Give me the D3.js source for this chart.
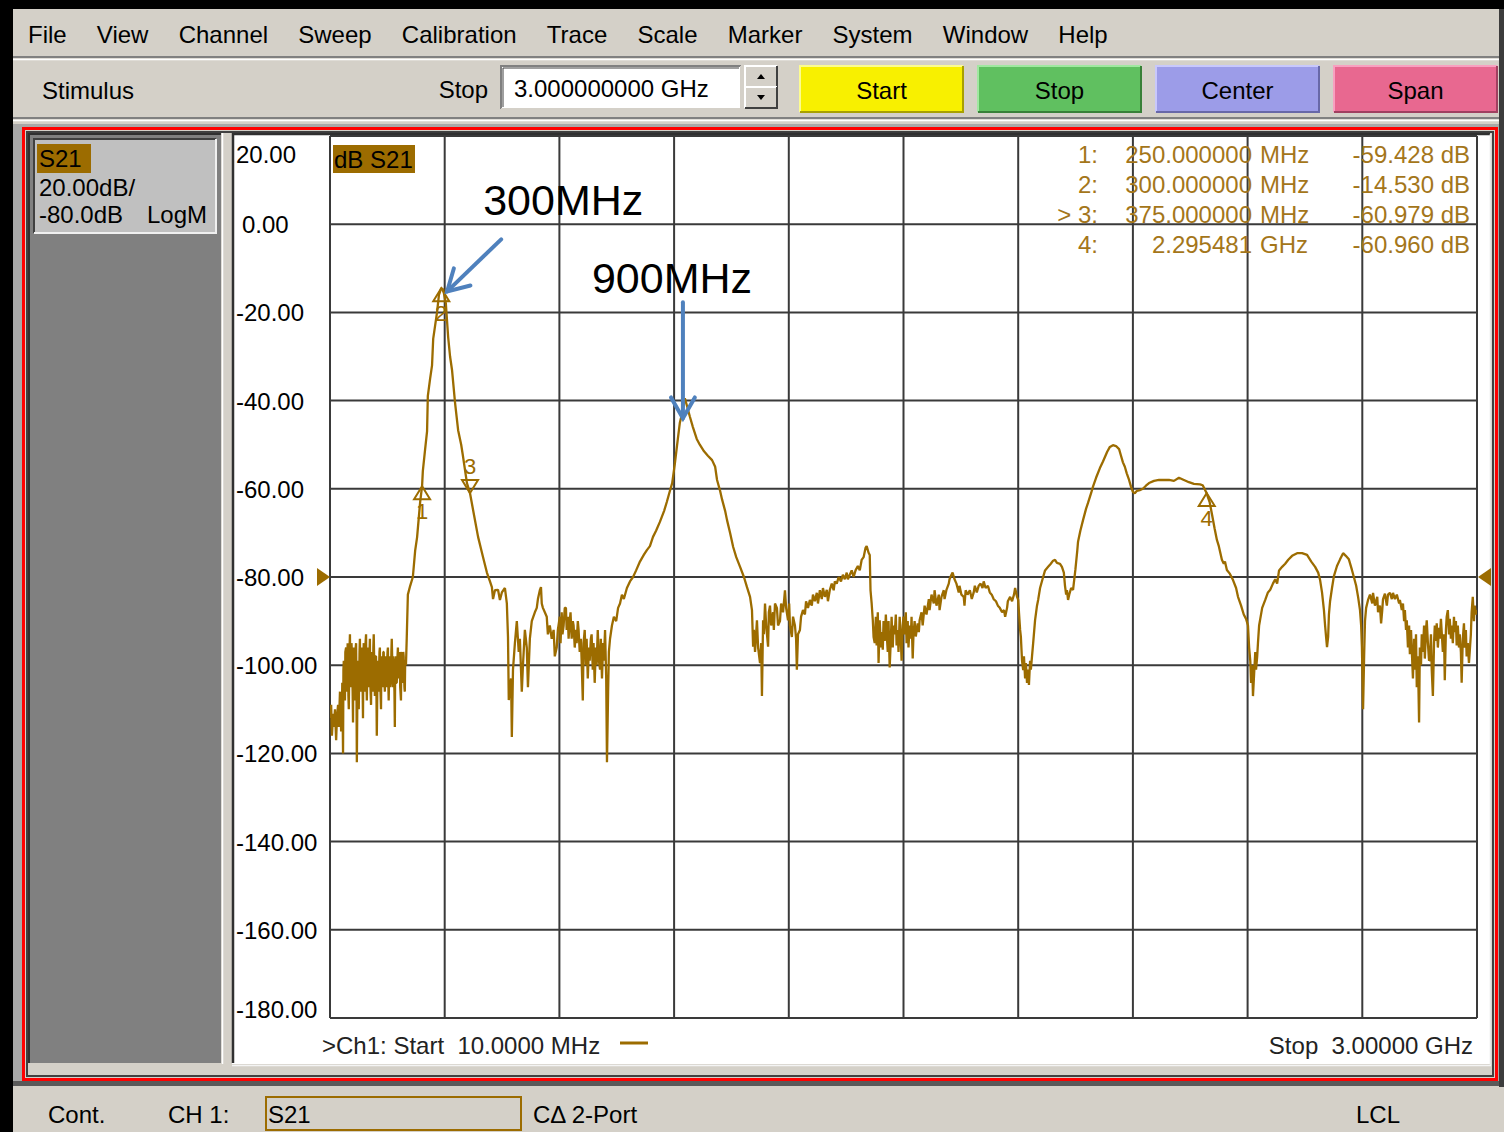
<!DOCTYPE html>
<html>
<head>
<meta charset="utf-8">
<script src="https://cdn.jsdelivr.net/npm/d3@7"></script>
<style>
  html, body { margin: 0; padding: 0; background: #d4d0c8; }
  svg { display: block; }
  text { font-family: "Liberation Sans", Arial, sans-serif; white-space: pre; }
</style>
</head>
<body>
<svg id="vna" width="1504" height="1132"></svg>
<script>
// ---------- data ----------
const menuItems = ["File", "View", "Channel", "Sweep", "Calibration", "Trace", "Scale", "Marker", "System", "Window", "Help"];
const stimulusButtons = ["Start", "Stop", "Center", "Span"];
const stimulusStopText = "3.000000000 GHz";

const freqRangeMHz = [10, 3000];
const dbRange = [20, -180];
const freqGridMHz = [10, 309, 608, 907, 1206, 1505, 1804, 2103, 2402, 2701, 3000];
const dbTicks = [20, 0, -20, -40, -60, -80, -100, -120, -140, -160, -180];
const dbTickLabels = ["20.00", "0.00", "-20.00", "-40.00", "-60.00", "-80.00", "-100.00", "-120.00", "-140.00", "-160.00", "-180.00"];
const referenceDb = -80;

const markerIds = ["1", "2", "3", "4"];
const markerFreqMHz = [250, 300, 375, 2295.481];
const markerDb = [-59.428, -14.530, -60.979, -60.960];
const markerFreqText = ["250.000000", "300.000000", "375.000000", "2.295481"];
const markerUnit = ["MHz", "MHz", "MHz", "GHz"];
const activeMarker = "3";

const annotationLabels = ["300MHz", "900MHz"];
const annotationFreqMHz = [305, 930];
const annotationDb = [-15, -44];

// S21 magnitude, [frequency MHz, dB]
const s21Trace = [
  [10,-112],[13,-109],[15,-116],[18,-111],[20,-114],[23,-110],[26,-117],[28,-112],[31,-109],[33,-114],
  [36,-106],[39,-115],[41,-111],[42,-104],[44,-120],[45,-101],[46,-99],[48,-107],[49,-108],[50,-97],
  [52,-96],[53,-104],[54,-106],[56,-95],[57,-98],[58,-107],[59,-110],[61,-96],[62,-93],[63,-103],
  [65,-105],[66,-95],[67,-97],[69,-106],[70,-113],[71,-98],[72,-96],[74,-104],[75,-108],[76,-97],
  [78,-95],[79,-105],[80,-122],[82,-100],[83,-99],[84,-106],[85,-110],[87,-97],[88,-94],[89,-104],
  [91,-106],[92,-96],[93,-97],[95,-105],[96,-112],[97,-98],[98,-95],[100,-106],[101,-104],[102,-96],
  [104,-93],[105,-103],[106,-108],[108,-98],[109,-96],[110,-105],[111,-103],[113,-97],[114,-94],[115,-104],
  [117,-109],[118,-99],[119,-97],[121,-106],[122,-105],[123,-96],[124,-93],[126,-103],[127,-107],[128,-98],
  [130,-98],[131,-105],[132,-116],[134,-100],[135,-99],[136,-106],[137,-104],[139,-97],[140,-96],[141,-104],
  [143,-110],[144,-99],[145,-98],[147,-105],[148,-102],[149,-97],[150,-97],[152,-104],[153,-106],[154,-98],
  [156,-99],[157,-105],[158,-101],[160,-97],[161,-96],[162,-104],[163,-108],[165,-98],[166,-99],[167,-105],
  [169,-103],[170,-97],[171,-94],[173,-102],[174,-105],[175,-98],[176,-100],[178,-106],[179,-114],[180,-100],
  [182,-98],[183,-104],[184,-104],[186,-98],[187,-96],[188,-103],[189,-102],[191,-97],[192,-99],[193,-105],
  [195,-108],[196,-98],[197,-97],[199,-104],[200,-103],[201,-97],[202,-98],[204,-105],[205,-106],[206,-99],
  [208,-100],[209,-97],[210,-94],
  [213,-84],[219,-82],[226,-80],[232,-74],[237,-71],[245,-63],[250,-59.4],[252,-56],[258,-51],[263,-47],
  [265,-39],[271,-35],[276,-32],[279,-26],[284,-23],[289,-20],[294,-16],[300,-14.5],[305,-14.8],[310,-17],
  [312,-18],[318,-25.6],[323,-30],[328,-33],[336,-40.5],[344,-46.7],[352,-50],[357,-52.8],[367,-58.7],[375,-61],
  [383,-64.8],[396,-70.9],[409,-75.5],[419,-79],[427,-81],[432,-82.3],[435,-85],[440,-83],[448,-82.9],[453,-85.2],
  [458,-83.5],[466,-82.5],[471,-86],[474,-93.6],[476,-107.9],[482,-103],[484,-116.3],[487,-101],[492,-95],[497,-90],
  [502,-97],[505,-94],[510,-106],[513,-100],[518,-92],[523,-96],[526,-105],[531,-94],[536,-90],[544,-88],
  [549,-87],[552,-85],[557,-83],[560,-82.3],[562,-86],[565,-87],[570,-88],[575,-89],[578,-93],[583,-91],
  [588,-94],[593,-92],[596,-98],[601,-96],[604,-92],
  [609,-89],[611,-95],[614,-88],[616,-93],[619,-91],[622,-87],[625,-87],[627,-92],[630,-89],[632,-94],
  [635,-90],[637,-88],[640,-94],[643,-90],[645,-91],[648,-96],[651,-92],[653,-95],[656,-90],[658,-92],
  [661,-97],[664,-94],[666,-99],[669,-108],[671,-95],[674,-92],[677,-100],[679,-94],[682,-103],[685,-96],
  [687,-99],[690,-94],[692,-93],[695,-101],[697,-95],[700,-104],[703,-96],[705,-100],[708,-92],[711,-99],
  [714,-101],[716,-94],[719,-103],[722,-95],[724,-99],[727,-92],[730,-103],[732,-122],[735,-106],[737,-97],
  [740,-94],[745,-91],[750,-89],[756,-90],[761,-87],[766,-86],[771,-84],[776,-85],[784,-82.5],[792,-81],
  [800,-80],[808,-78.5],[818,-76.5],[828,-75],[836,-73.9],[844,-73],[852,-70.9],[860,-69.5],[870,-67.5],[881,-65],
  [888,-63],[896,-60.5],[902,-58.7],[909,-54.3],[917,-48.5],[922,-45],[928,-42.8],[933,-40],[935,-39.5],[940,-41],
  [948,-43.6],[956,-46],[966,-48.7],[974,-50],[985,-51.5],[995,-52.5],[1006,-53.5],[1014,-55],[1019,-58],[1027,-60.5],
  [1032,-62.4],[1040,-65],[1045,-67.1],[1053,-70],[1061,-73.2],[1069,-75.5],[1079,-77.7],[1089,-80],[1097,-82.3],[1105,-84.5],
  [1110,-87.5],[1113,-95.8],[1115,-92],[1118,-97],[1123,-89.8],[1126,-96],[1131,-99.5],[1134,-95],[1136,-107],[1139,-89.8],
  [1141,-93],[1144,-86],[1147,-91],[1152,-95.8],[1154,-88],[1157,-86.5],[1160,-91],[1165,-88],[1167,-92],[1170,-86],
  [1175,-87],[1178,-91],[1183,-90],[1186,-86],[1191,-88],[1196,-83],[1199,-87],[1204,-89.8],[1207,-86],[1209,-91],
  [1214,-93.6],[1217,-89],[1222,-91],[1225,-94],[1227,-101],[1230,-93],[1235,-92],[1238,-89],[1243,-87.5],[1248,-88.5],
  [1251,-85.5],[1256,-87],[1261,-85.2],[1266,-86.5],[1269,-84],[1274,-85.5],[1279,-83.6],[1282,-86],[1287,-83],[1292,-85],
  [1295,-82.5],[1300,-84.5],[1305,-82.9],[1308,-85.5],[1313,-82.9],[1318,-81.5],[1323,-83],[1326,-81],[1331,-81.5],[1336,-80],
  [1342,-81],[1347,-79.5],[1352,-80.5],[1357,-79],[1360,-80.5],[1365,-79.5],[1370,-78.5],[1375,-80],[1380,-78.5],[1386,-77.5],
  [1391,-78.5],[1396,-76.1],[1401,-75.5],[1406,-73.4],[1409,-73],[1414,-74.5],[1417,-75],[1419,-83],[1422,-86],[1425,-89.8],
  [1427,-93.6],[1430,-95],[1433,-89],[1435,-95.5],[1438,-88],[1440,-99.5],[1443,-89.8],[1446,-96],[1448,-92.5],[1451,-96.5],
  [1453,-90],[1456,-94.5],[1459,-88.5],[1461,-92.5],[1464,-97],[1466,-90],[1469,-100.5],[1472,-94],[1474,-89],[1477,-96],
  [1479,-91],[1482,-93],[1485,-88.5],[1487,-95.5],[1490,-92],[1492,-97],[1495,-89],[1498,-94],[1500,-99],[1503,-91],
  [1505,-89],[1508,-93],[1511,-88],[1513,-95],[1516,-90],[1518,-96],[1521,-91],[1524,-94],[1526,-89],[1529,-98.5],
  [1531,-93],[1534,-90],[1537,-93.5],[1542,-90.5],[1545,-92.5],[1547,-89.8],[1552,-88],[1555,-91],[1560,-86.5],[1565,-88.5],
  [1571,-85],[1573,-87.5],[1578,-84],[1584,-86],[1586,-83],[1591,-86.5],[1597,-84],[1599,-87.5],[1604,-84.5],[1610,-83],
  [1612,-85],[1617,-82.9],[1623,-81.5],[1625,-80.5],[1630,-79.5],[1633,-79],[1638,-80.5],[1643,-81.5],[1649,-83.5],[1651,-82],
  [1656,-84],[1662,-84.5],[1664,-86.5],[1667,-83],[1672,-84],[1678,-83],[1683,-85],[1688,-83.5],[1691,-82],[1696,-83.5],
  [1701,-82],[1706,-81.5],[1711,-82.5],[1714,-81],[1719,-82.5],[1725,-82],[1730,-83.5],[1735,-84],[1740,-85],[1746,-85.5],
  [1751,-86.5],[1756,-87],[1762,-88],[1767,-87.5],[1770,-89],[1775,-87],[1777,-85.5],[1783,-84.5],[1788,-85.5],[1793,-84],
  [1796,-82.5],[1801,-84.5],[1804,-85.2],[1806,-88],[1809,-92],[1811,-93.6],[1814,-99],[1817,-101.1],[1819,-98],[1822,-103],
  [1824,-99.5],[1827,-104],[1830,-101],[1832,-104.5],[1835,-99],[1837,-101],[1840,-98],[1843,-95],[1848,-89.8],[1853,-86.5],
  [1856,-85.2],[1861,-82.5],[1869,-80],[1874,-78.5],[1882,-77.7],[1889,-77],[1895,-76.3],[1900,-76.1],[1905,-76.8],[1913,-77],
  [1918,-77.7],[1923,-79],[1926,-82],[1929,-84],[1931,-83],[1934,-85.2],[1937,-84],[1942,-82.5],[1947,-82.9],[1953,-78.4],
  [1958,-74],[1960,-72],[1966,-69.5],[1973,-67.1],[1981,-64.5],[1986,-63.2],[1994,-61],[1999,-59.5],[2007,-57.5],[2017,-55.3],
  [2025,-53.8],[2036,-51.6],[2043,-50.5],[2051,-50.1],[2059,-50.3],[2067,-51],[2072,-52.5],[2077,-54],[2082,-55],[2087,-56.5],
  [2093,-58],[2098,-59.5],[2103,-60.7],[2108,-61],[2113,-60.5],[2121,-60.3],[2129,-60],[2137,-59.3],[2145,-58.7],[2158,-58.2],
  [2171,-58],[2184,-58],[2197,-58],[2210,-58.2],[2223,-57.5],[2236,-58],[2249,-58.5],[2262,-58.9],[2278,-59],[2285,-59.2],
  [2295,-60.96],[2303,-63],[2309,-65.7],[2316,-69],[2322,-71.6],[2327,-73],[2335,-76.1],[2340,-77],[2343,-76.5],[2348,-78.4],
  [2356,-79.3],[2364,-80.7],[2372,-82.5],[2377,-84.5],[2385,-86.5],[2392,-88.5],[2398,-89.5],[2403,-91],[2406,-96],[2409,-99],
  [2411,-104],[2414,-100],[2416,-107],[2419,-102],[2422,-97],[2424,-101],[2427,-98],[2429,-95],[2432,-91],[2435,-89.5],
  [2440,-87],[2448,-85.2],[2455,-83.5],[2461,-82.9],[2468,-81.5],[2474,-80.5],[2479,-81.5],[2484,-78.5],[2492,-77.7],[2500,-77],
  [2508,-76.1],[2518,-75.2],[2531,-74.6],[2544,-74.6],[2557,-75],[2568,-76.5],[2578,-77.7],[2586,-79],[2591,-80.7],[2596,-83.5],
  [2601,-87.5],[2604,-91],[2607,-94],[2609,-95.9],[2612,-93.5],[2614,-88.5],[2617,-85.5],[2622,-82.5],[2627,-79.8],[2635,-77.5],
  [2643,-76],[2651,-74.6],[2658,-75.2],[2666,-76],[2674,-78.4],[2679,-80],[2685,-82],[2690,-84.5],[2695,-87.5],[2698,-91],
  [2700,-96],[2703,-110],[2706,-97],[2708,-90],[2711,-87],[2716,-85.2],[2721,-84],[2727,-86],[2729,-83.6],[2734,-86.5],
  [2740,-84.5],[2742,-88],[2747,-86.5],[2750,-90.5],[2753,-87.5],[2755,-85],[2760,-83.8],[2765,-86.5],[2768,-84],[2773,-83.6],
  [2778,-85],[2781,-83.6],[2786,-85],[2791,-84],[2797,-86],[2799,-85.2],[2804,-87.5],[2807,-86],[2810,-90],[2812,-87.5],
  [2815,-92],[2817,-89.8],[2820,-96],[2823,-91],[2825,-97.5],[2828,-92],[2830,-96.6],[2833,-103],[2836,-94],[2838,-101],
  [2841,-93],[2843,-105],[2846,-98],[2849,-113],[2851,-96],[2854,-100],[2856,-93],[2859,-97],[2862,-91],[2864,-98.5],
  [2867,-92],[2869,-89.8],[2872,-95],[2875,-99],[2877,-98.8],[2880,-93],[2882,-101],[2885,-107],[2888,-95],[2890,-91],
  [2893,-94.5],[2895,-90.5],[2898,-96],[2901,-91.5],[2903,-94],[2906,-89.5],[2908,-92.5],[2911,-97],[2914,-93],[2916,-103.4],
  [2919,-92],[2921,-89],[2924,-87.5],[2927,-93],[2929,-89.5],[2932,-94],[2934,-91],[2937,-95],[2940,-89],[2942,-92.5],
  [2945,-90],[2947,-95.5],[2950,-91],[2953,-96],[2955,-93],[2958,-97],[2960,-104],[2963,-94],[2966,-90.5],[2968,-96],
  [2971,-92],[2973,-98],[2976,-95],[2979,-99.5],[2981,-97],[2984,-93],[2986,-88],[2989,-84.5],[2992,-90],[2994,-86.5],
  [2997,-88.5],[3000,-87.5]
];

// ---------- drawing ----------
const W = 1504, H = 1132;
const FACE = "#d4d0c8", SHADOW = "#808080", DARK = "#404040", LIGHT = "#ffffff";
const BROWN = "#9c6c00", READOUT = "#a4761a";
const svg = d3.select("#vna");
// instrument-style numbers use a plain hyphen for negatives
const fmt = d3.formatLocale({ decimal: ".", thousands: ",", grouping: [3], currency: ["", ""], minus: "-" }).format;

// bevelled rectangle: raised (light top-left) or sunken (dark top-left)
function bevel(g, x0, y0, w, h, fill, sunken, hi, lo) {
  const a = sunken ? (lo || DARK) : (hi || LIGHT);
  const b = sunken ? (hi || LIGHT) : (lo || DARK);
  g.append("rect").attr("x", x0).attr("y", y0).attr("width", w).attr("height", h).attr("fill", fill);
  g.append("path").attr("d", `M${x0},${y0 + h} V${y0} H${x0 + w}`).attr("fill", "none").attr("stroke", a).attr("stroke-width", 2);
  g.append("path").attr("d", `M${x0},${y0 + h} H${x0 + w} V${y0}`).attr("fill", "none").attr("stroke", b).attr("stroke-width", 2);
}

svg.append("rect").attr("width", W).attr("height", H).attr("fill", FACE);
svg.append("rect").attr("x", 0).attr("y", 0).attr("width", W).attr("height", 9).attr("fill", "#000");
svg.append("rect").attr("x", 0).attr("y", 0).attr("width", 13).attr("height", H).attr("fill", "#000");
svg.append("rect").attr("x", 1499).attr("y", 9).attr("width", 5).attr("height", 1078).attr("fill", "#3c3c3c");

// ---- menu bar ----
const menu = svg.append("g");
let mx = 28;
menuItems.forEach(label => {
  const t = menu.append("text").attr("x", mx).attr("y", 43).attr("font-size", 24).attr("fill", "#000").text(label);
  mx += t.node().getComputedTextLength() + 30.2;
});
svg.append("line").attr("x1", 13).attr("x2", 1499).attr("y1", 57).attr("y2", 57).attr("stroke", SHADOW).attr("stroke-width", 2);
svg.append("line").attr("x1", 13).attr("x2", 1499).attr("y1", 59.5).attr("y2", 59.5).attr("stroke", LIGHT).attr("stroke-width", 1.5);

// ---- stimulus bar ----
const stim = svg.append("g");
stim.append("text").attr("x", 42).attr("y", 99).attr("font-size", 24).text("Stimulus");
stim.append("text").attr("x", 488).attr("y", 98).attr("font-size", 24).attr("text-anchor", "end").text("Stop");
bevel(stim, 501, 66, 240, 43, "#ffffff", true, FACE, SHADOW);
stim.append("line").attr("x1", 503).attr("x2", 739).attr("y1", 68).attr("y2", 68).attr("stroke", DARK).attr("stroke-width", 1);
stim.append("line").attr("x1", 503).attr("x2", 503).attr("y1", 68).attr("y2", 107).attr("stroke", DARK).attr("stroke-width", 1);
stim.append("text").attr("x", 514).attr("y", 97).attr("font-size", 24).text(stimulusStopText);
// spinner
bevel(stim, 745, 66, 32, 21, FACE, false, LIGHT, DARK);
bevel(stim, 745, 87, 32, 21, FACE, false, LIGHT, DARK);
stim.append("path").attr("d", "M757,79 L761,74 L765,79 Z").attr("fill", "#000");
stim.append("path").attr("d", "M757,95 L761,100 L765,95 Z").attr("fill", "#000");
// coloured stimulus buttons
const btnColors = [
  { face: "#f8f000", hi: "#fcfc90", lo: "#a8a000" },
  { face: "#60c060", hi: "#a0e8a0", lo: "#388038" },
  { face: "#9c9ce8", hi: "#c8c8fc", lo: "#6868a8" },
  { face: "#e86890", hi: "#f8a0c0", lo: "#a04060" }
];
const btnX = d3.scalePoint().domain(stimulusButtons).range([800, 1334]);
stimulusButtons.forEach((label, i) => {
  const bx = btnX(label);
  bevel(stim, bx, 66, 163, 46, btnColors[i].face, false, btnColors[i].hi, btnColors[i].lo);
  stim.append("text").attr("x", bx + 81.5).attr("y", 99).attr("font-size", 24)
    .attr("text-anchor", "middle").text(label);
});
svg.append("line").attr("x1", 13).attr("x2", 1499).attr("y1", 118).attr("y2", 118).attr("stroke", SHADOW).attr("stroke-width", 2);
svg.append("line").attr("x1", 13).attr("x2", 1499).attr("y1", 120.5).attr("y2", 120.5).attr("stroke", LIGHT).attr("stroke-width", 1.5);

// ---- channel window frame ----
svg.append("rect").attr("x", 13).attr("y", 124).attr("width", 1486).attr("height", 962).attr("fill", "#a8a8a8");
svg.append("rect").attr("x", 23.5).attr("y", 128.5).attr("width", 1473).attr("height", 951)
  .attr("fill", FACE).attr("stroke", "#ff0000").attr("stroke-width", 3);
svg.append("rect").attr("x", 27).attr("y", 132).attr("width", 1466).attr("height", 944)
  .attr("fill", FACE).attr("stroke", DARK).attr("stroke-width", 2);
svg.append("rect").attr("x", 13).attr("y", 1081).attr("width", 1486).attr("height", 5).attr("fill", "#5a5a5a");

// left trace-info panel
svg.append("rect").attr("x", 28).attr("y", 133).attr("width", 193).attr("height", 930).attr("fill", "#808080");
svg.append("path").attr("d", "M29,1063 V134 H221").attr("fill", "none").attr("stroke", "#303030").attr("stroke-width", 2);
bevel(svg, 34, 139, 182, 94, "#c0c0c0", true, "#f0f0f0", DARK);
svg.append("rect").attr("x", 37).attr("y", 144).attr("width", 54).attr("height", 29).attr("fill", BROWN);
svg.append("text").attr("x", 39).attr("y", 167).attr("font-size", 24).text("S21");
svg.append("text").attr("x", 39).attr("y", 196).attr("font-size", 24).text("20.00dB/");
svg.append("text").attr("x", 39).attr("y", 223).attr("font-size", 24).text("-80.0dB");
svg.append("text").attr("x", 147).attr("y", 223).attr("font-size", 24).text("LogM");
svg.append("line").attr("x1", 222.5).attr("x2", 222.5).attr("y1", 133).attr("y2", 1064).attr("stroke", LIGHT).attr("stroke-width", 1.5);

// chart panel
svg.append("rect").attr("x", 232).attr("y", 133).attr("width", 1258).attr("height", 931).attr("fill", "#ffffff");
svg.append("path").attr("d", "M233,1063 V134 H1490").attr("fill", "none").attr("stroke", "#303030").attr("stroke-width", 2.5);
svg.append("line").attr("x1", 1490.5).attr("x2", 1490.5).attr("y1", 134).attr("y2", 1065).attr("stroke", "#e8e8e8").attr("stroke-width", 1.5);
svg.append("line").attr("x1", 232).attr("x2", 1491).attr("y1", 1065.5).attr("y2", 1065.5).attr("stroke", "#f4f4f4").attr("stroke-width", 1.5);

// ---- plot ----
const x = d3.scaleLinear().domain(freqRangeMHz).range([330, 1477]);
const y = d3.scaleLinear().domain(dbRange).range([136, 1018]);
const plot = svg.append("g");

plot.append("g").selectAll("line").data(freqGridMHz).join("line")
  .attr("x1", d => x(d)).attr("x2", d => x(d)).attr("y1", y(dbRange[0])).attr("y2", y(dbRange[1]))
  .attr("stroke", "#3a3a3a").attr("stroke-width", 2);
plot.append("g").selectAll("line").data(dbTicks).join("line")
  .attr("x1", x(freqRangeMHz[0])).attr("x2", x(freqRangeMHz[1])).attr("y1", d => y(d)).attr("y2", d => y(d))
  .attr("stroke", "#3a3a3a").attr("stroke-width", 2);

// scale labels
plot.append("g").selectAll("text").data(dbTicks).join("text")
  .attr("x", (d, i) => dbTickLabels[i].startsWith("-") || d > 0 ? 236 : 242)
  .attr("y", (d, i) => i === 0 ? y(d) + 27 : (i === dbTicks.length - 1 ? y(d) : y(d) + 9))
  .attr("font-size", 24).attr("fill", "#000")
  .text((d, i) => dbTickLabels[i]);

// reference level pointers
const yr = y(referenceDb);
plot.append("path").attr("d", `M317,${yr - 9} L330,${yr} L317,${yr + 9} Z`).attr("fill", BROWN);
plot.append("path").attr("d", `M1491,${yr - 9} L1478,${yr} L1491,${yr + 9} Z`).attr("fill", BROWN);

// trace label
plot.append("rect").attr("x", 333).attr("y", 145).attr("width", 82).attr("height", 28).attr("fill", BROWN);
plot.append("text").attr("x", 334).attr("y", 168).attr("font-size", 24).text("dB S21");

// trace
svg.append("clipPath").attr("id", "plotClip").append("rect")
  .attr("x", 330).attr("y", 136).attr("width", 1147).attr("height", 882);
plot.append("path").datum(s21Trace)
  .attr("clip-path", "url(#plotClip)")
  .attr("d", d3.line().x(d => x(d[0])).y(d => y(d[1])))
  .attr("fill", "none").attr("stroke", BROWN).attr("stroke-width", 2.3).attr("stroke-linejoin", "bevel");

// markers
const mk = plot.append("g").attr("fill", "none").attr("stroke", BROWN).attr("stroke-width", 2);
markerIds.forEach((id, i) => {
  const px = x(markerFreqMHz[i]), py = y(markerDb[i]);
  if (id === activeMarker) {
    mk.append("path").attr("d", `M${px},${py} L${px - 8},${py - 13} L${px + 8},${py - 13} Z`);
    plot.append("text").attr("x", px).attr("y", py - 19).attr("font-size", 22).attr("text-anchor", "middle")
      .attr("fill", BROWN).text(id);
  } else {
    mk.append("path").attr("d", `M${px},${py} L${px - 8},${py + 13} L${px + 8},${py + 13} Z`);
    plot.append("text").attr("x", px).attr("y", py + 33).attr("font-size", 22).attr("text-anchor", "middle")
      .attr("fill", BROWN).text(id);
  }
});

// marker readout
const ro = plot.append("g").attr("font-size", 24).attr("fill", READOUT);
markerIds.forEach((id, i) => {
  const by = 163 + i * 30;
  ro.append("text").attr("x", 1098).attr("y", by).attr("text-anchor", "end")
    .text((id === activeMarker ? "> " : "") + id + ":");
  ro.append("text").attr("x", 1252).attr("y", by).attr("text-anchor", "end").text(markerFreqText[i]);
  ro.append("text").attr("x", 1260).attr("y", by).text(markerUnit[i]);
  ro.append("text").attr("x", 1470).attr("y", by).attr("text-anchor", "end").text(fmt(".3f")(markerDb[i]) + " dB");
});

// sweep range labels
plot.append("text").attr("x", 322).attr("y", 1054).attr("font-size", 24).attr("fill", "#222")
  .text(">Ch1: Start  " + fmt(".4f")(freqRangeMHz[0]) + " MHz");
plot.append("line").attr("x1", 620).attr("x2", 648).attr("y1", 1043).attr("y2", 1043).attr("stroke", BROWN).attr("stroke-width", 3);
plot.append("text").attr("x", 1473).attr("y", 1054).attr("font-size", 24).attr("fill", "#222").attr("text-anchor", "end")
  .text("Stop  " + fmt(".5f")(freqRangeMHz[1] / 1000) + " GHz");

// ---- call-out annotations ----
const ann = svg.append("g");
const arrowBlue = "#4f81bd";
const annLayout = [
  { tail: [54, -52], text: [36, -76], tipShift: [4, 1] },
  { tail: [0, -116], text: [-91, -125], tipShift: [0, 0] }
];
function arrow(g, x1, y1, x2, y2) {
  const ang = Math.atan2(y2 - y1, x2 - x1), L = 24, spread = 0.52;
  g.append("line").attr("x1", x1).attr("y1", y1).attr("x2", x2).attr("y2", y2)
    .attr("stroke", arrowBlue).attr("stroke-width", 4).attr("stroke-linecap", "round");
  const w1 = [x2 - L * Math.cos(ang - spread), y2 - L * Math.sin(ang - spread)];
  const w2 = [x2 - L * Math.cos(ang + spread), y2 - L * Math.sin(ang + spread)];
  g.append("path").attr("d", `M${w1[0]},${w1[1]} L${x2},${y2} L${w2[0]},${w2[1]}`)
    .attr("fill", "none").attr("stroke", arrowBlue).attr("stroke-width", 4)
    .attr("stroke-linecap", "round").attr("stroke-linejoin", "miter");
}
annotationLabels.forEach((label, i) => {
  const tx = x(annotationFreqMHz[i]) + annLayout[i].tipShift[0];
  const ty = y(annotationDb[i]) + annLayout[i].tipShift[1];
  arrow(ann, tx + annLayout[i].tail[0], ty + annLayout[i].tail[1], tx, ty);
  ann.append("text").attr("x", tx + annLayout[i].text[0]).attr("y", ty + annLayout[i].text[1])
    .attr("font-family", "Lato, 'Open Sans', sans-serif").attr("font-size", 43).attr("fill", "#000").text(label);
});

// ---- status bar ----
const sb = svg.append("g").attr("font-size", 24);
sb.append("text").attr("x", 48).attr("y", 1123).text("Cont.");
sb.append("text").attr("x", 168).attr("y", 1123).text("CH 1:");
sb.append("rect").attr("x", 266).attr("y", 1097).attr("width", 255).attr("height", 33)
  .attr("fill", FACE).attr("stroke", BROWN).attr("stroke-width", 2);
sb.append("text").attr("x", 268).attr("y", 1123).text("S21");
sb.append("text").attr("x", 533).attr("y", 1123).text("C\u0394 2-Port");
sb.append("text").attr("x", 1356).attr("y", 1123).text("LCL");
</script>
</body>
</html>
